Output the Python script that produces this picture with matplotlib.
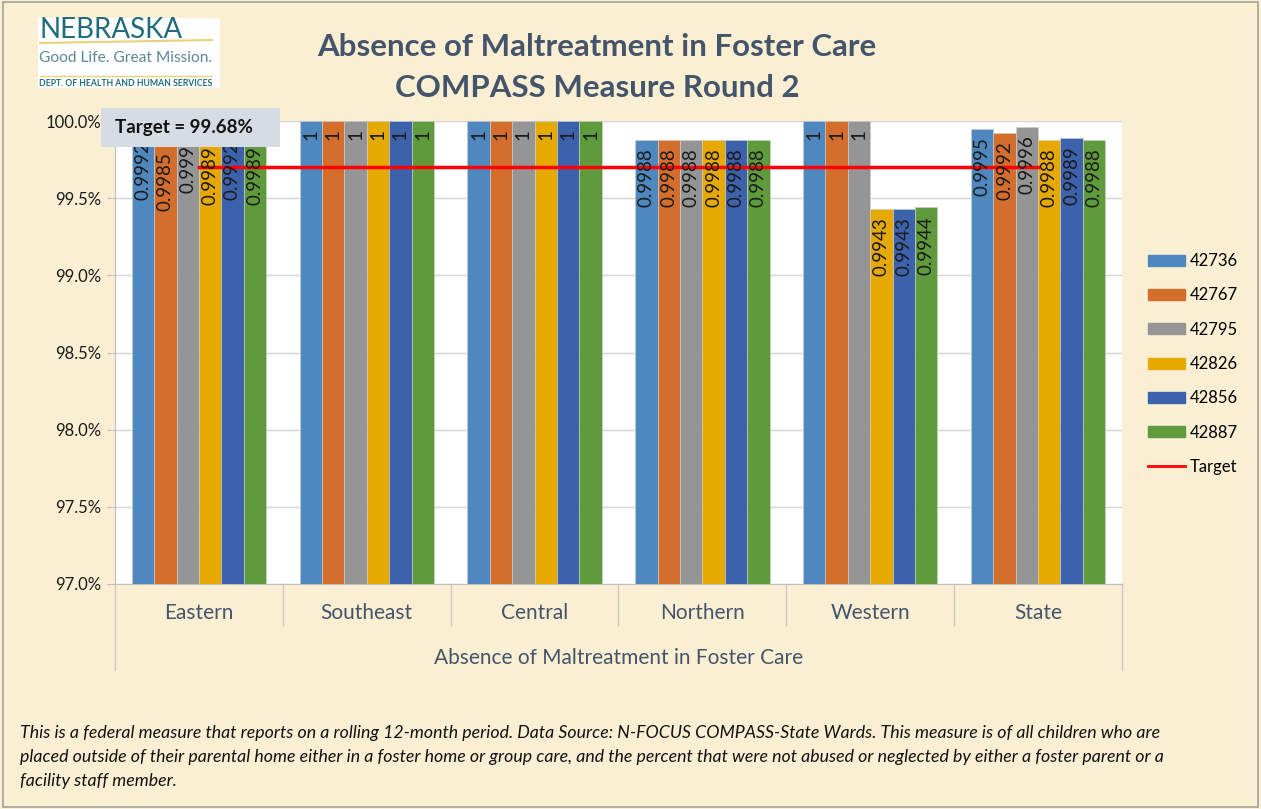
import matplotlib.pyplot as plt
import matplotlib.patches as mpatches
from matplotlib.lines import Line2D
import numpy as np

plt.rcParams['font.family'] = ['Lato', 'DejaVu Sans']

# data
regions = ["Eastern", "Southeast", "Central", "Northern", "Western", "State"]
series_names = ["42736", "42767", "42795", "42826", "42856", "42887"]
s42736 = [0.9992, 1, 1, 0.9988, 1, 0.9995]
s42767 = [0.9985, 1, 1, 0.9988, 1, 0.9992]
s42795 = [0.999, 1, 1, 0.9988, 1, 0.9996]
s42826 = [0.9989, 1, 1, 0.9988, 0.9943, 0.9988]
s42856 = [0.9992, 1, 1, 0.9988, 0.9943, 0.9989]
s42887 = [0.9989, 1, 1, 0.9988, 0.9944, 0.9988]
target = 0.997
target_text = "Target = 99.68%"

series = [s42736, s42767, s42795, s42826, s42856, s42887]
colors = ["#4F88BE", "#D46E2C", "#959595", "#E5A902", "#3D62AC", "#5F9B3D"]

W, H = 1261, 809
fig = plt.figure(figsize=(W / 100, H / 100), dpi=100)
fig.patch.set_facecolor("#FAEFD3")
fig.patches.append(mpatches.Rectangle((0.002, 0.002), 0.996, 0.996, transform=fig.transFigure,
                                      fill=False, edgecolor="#A0A0A0", lw=1.2))

def fx(px):
    return px / W

def fy(py):
    return 1 - py / H

ax = fig.add_axes([fx(115), fy(584), fx(1122) - fx(115), fy(121) - fy(584)])
ax.set_facecolor("white")

x = np.arange(len(regions))
bw = 0.8 / len(series)
for i, (vals, c) in enumerate(zip(series, colors)):
    pos = x - 0.4 + bw * (i + 0.5)
    ax.bar(pos, vals, width=bw, color=c, edgecolor="#D0D0D0", linewidth=0.4,
           label=series_names[i], zorder=3)
    for xp, v in zip(pos, vals):
        ax.annotate(f"{v:g}", (xp, v), xytext=(0, -6), textcoords="offset points",
                    rotation=90, ha="center", va="top", fontsize=13.5, color="#1A1A1A",
                    zorder=5)

ax.plot([x[0], x[-1]], [target, target], color="#FF0000", lw=2.5, zorder=4, label="Target")

ax.set_ylim(0.97, 1.0)
ax.set_xlim(-0.5, len(regions) - 0.5)
yt = np.arange(0.97, 1.0001, 0.005)
ax.set_yticks(yt)
ax.set_yticklabels([f"{v * 100:.1f}%" for v in yt], fontsize=12, color="#1A1A1A")
ax.yaxis.grid(True, color="#D4D4D4", lw=1, zorder=0)
ax.set_xticks([])
ax.tick_params(axis="y", length=6, color="#BFBFBF", pad=4)
for s in ["top", "right"]:
    ax.spines[s].set_visible(False)
ax.spines["left"].set_color("#BFBFBF")
ax.spines["bottom"].set_color("#BFBFBF")

# two-level category axis
tr = ax.get_xaxis_transform()
for b in np.arange(-0.5, len(regions), 1.0):
    low = -0.186 if b in (-0.5, len(regions) - 0.5) else -0.089
    ax.plot([b, b], [0, low], color="#C8C8C8", lw=1, transform=tr, clip_on=False)
for i, r in enumerate(regions):
    ax.text(i, -0.063, r, transform=tr, ha="center", va="center", fontsize=15, color="#44546A")
ax.text((len(regions) - 1) / 2, -0.16, "Absence of Maltreatment in Foster Care", transform=tr,
        ha="center", va="center", fontsize=15, color="#44546A")

# title
fig.text(fx(597), fy(47), "Absence of Maltreatment in Foster Care", ha="center", va="center",
         fontsize=22.5, fontweight="bold", color="#44546A")
fig.text(fx(597), fy(88), "COMPASS Measure Round 2", ha="center", va="center",
         fontsize=22.5, fontweight="bold", color="#44546A")

# target box
fig.patches.append(mpatches.Rectangle((fx(101), fy(147)), fx(280) - fx(101), fy(108) - fy(147),
                                      transform=fig.transFigure, facecolor="#D6DCE4",
                                      edgecolor="none", zorder=10))
fig.text(fx(115), fy(128), target_text, ha="left", va="center", fontsize=13.5,
         fontweight="bold", color="#111111", zorder=11)

# logo
fig.patches.append(mpatches.Rectangle((fx(38), fy(88)), fx(220) - fx(38), fy(18) - fy(88),
                                      transform=fig.transFigure, facecolor="white",
                                      edgecolor="none", zorder=10))
fig.text(fx(39), fy(30), "NEBRASKA", ha="left", va="center", fontsize=20, color="#1F6C7C", zorder=11)
fig.text(fx(39), fy(58), "Good Life. Great Mission.", ha="left", va="center", fontsize=11.2,
         color="#5A8894", zorder=11)
fig.text(fx(39), fy(84), "DEPT. OF HEALTH AND HUMAN SERVICES", ha="left", va="center", fontsize=6.2,
         fontweight="bold", color="#1F6C7C", zorder=11)
fig.lines.append(Line2D([fx(40), fx(212)], [fy(43), fy(40)], transform=fig.transFigure,
                        color="#E8D27A", lw=1.5, zorder=11))
fig.lines.append(Line2D([fx(40), fx(212)], [fy(76), fy(76)], transform=fig.transFigure,
                        color="#E8D27A", lw=1, zorder=11))

# legend
handles = [mpatches.Patch(color=c) for c in colors] + [Line2D([0], [0], color="#FF0000", lw=2)]
fig.legend(handles, series_names + ["Target"], loc="upper left",
           bbox_to_anchor=(fx(1133), fy(238)), frameon=False, fontsize=12,
           handlelength=2.2, handleheight=0.65, labelspacing=1.1, handletextpad=0.3)

caption = ("This is a federal measure that reports on a rolling 12-month period. Data Source: N-FOCUS COMPASS-State Wards. This measure is of all children who are\n"
           "placed outside of their parental home either in a foster home or group care, and the percent that were not abused or neglected by either a foster parent or a\n"
           "facility staff member.")
fig.text(fx(20), fy(725), caption, ha="left", va="top", fontsize=12.8, style="italic",
         color="#111111", linespacing=1.62)

fig.savefig("out.png", dpi=100, facecolor=fig.get_facecolor())
